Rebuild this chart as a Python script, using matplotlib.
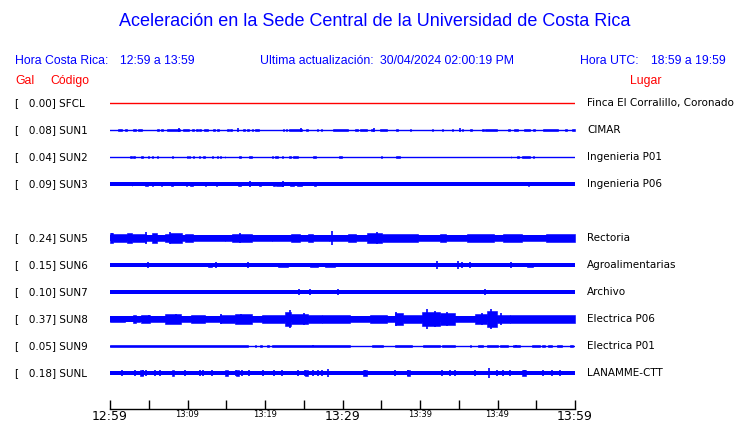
import matplotlib
matplotlib.use("Agg")
import matplotlib.pyplot as plt

# station table
codes = ["SFCL", "SUN1", "SUN2", "SUN3", "SUN5", "SUN6", "SUN7", "SUN8", "SUN9", "SUNL"]
peaks = [0.00, 0.08, 0.04, 0.09, 0.24, 0.15, 0.10, 0.37, 0.05, 0.18]
places = ["Finca El Corralillo, Coronado", "CIMAR", "Ingenieria P01", "Ingenieria P06",
          "Rectoria", "Agroalimentarias", "Archivo", "Electrica P06", "Electrica P01",
          "LANAMME-CTT"]
# steady background half-amplitude of each trace (Gal)
base = [0.0, 0.015, 0.008, 0.06, 0.10, 0.06, 0.06, 0.09, 0.008, 0.075]

# time axis (minutes after 12:59)
t_ticks = list(range(0, 61, 5))
t_labels = ["12:59", "", "13:09", "", "13:19", "", "13:29", "", "13:39", "", "13:49", "", "13:59"]
t_big = ["12:59", "13:29", "13:59"]

# bursts: (start min, end min, half amplitude Gal); spikes: (min, half amplitude Gal)
sun1_bursts = [(1.0, 1.5, .05), (1.9, 2.2, .05), (3.0, 3.4, .05), (3.6, 4.1, .05), (6.1, 6.3, .04),
               (6.6, 6.8, .04), (7.4, 9.0, .05), (9.4, 10.2, .05), (10.6, 10.8, .04), (11.1, 11.3, .04),
               (11.5, 11.7, .04), (12.1, 12.6, .05), (13.3, 13.5, .04), (13.8, 14.0, .04), (15.1, 15.3, .04),
               (15.5, 15.7, .04), (17.2, 17.4, .04), (17.7, 17.9, .04), (18.3, 18.5, .04), (18.7, 19.2, .05),
               (22.3, 22.5, .04), (22.7, 22.9, .04), (23.1, 24.8, .05), (25.3, 25.5, .04), (26.7, 26.9, .04),
               (27.2, 27.4, .04), (28.8, 30.7, .05), (31.6, 32.0, .05), (32.3, 33.2, .05), (33.7, 33.9, .04),
               (34.8, 35.7, .05), (36.9, 37.1, .04), (38.7, 38.9, .04), (41.5, 41.7, .04), (42.8, 43.0, .04),
               (44.1, 44.3, .04), (45.4, 45.6, .05), (46.5, 46.7, .04), (48.0, 48.2, .04), (48.4, 49.9, .05),
               (51.4, 51.6, .04), (52.1, 52.6, .05), (53.4, 54.2, .05), (54.6, 54.8, .04), (55.9, 57.8, .05),
               (58.7, 59.0, .05), (59.6, 60.0, .05)]
sun1_spikes = [(8.9, .08), (16.5, .07), (24.6, .08), (34.1, .07), (45.2, .08)]

sun2_bursts = [(2.6, 2.8, .035), (3.0, 3.2, .035), (4.0, 4.3, .035), (4.9, 5.0, .03), (5.4, 5.5, .03),
               (6.1, 6.2, .03), (8.0, 8.1, .03), (9.9, 10.0, .03), (10.2, 10.3, .03), (10.7, 10.8, .03),
               (11.5, 11.6, .03), (12.0, 12.3, .035), (13.2, 13.3, .03), (13.8, 13.9, .03), (14.2, 14.3, .03),
               (14.8, 14.9, .03), (16.6, 16.9, .035), (17.9, 18.3, .035), (20.9, 21.0, .03), (21.3, 21.7, .035),
               (22.2, 22.3, .03), (23.1, 23.4, .035), (23.6, 24.3, .04), (26.2, 26.6, .035), (29.5, 29.9, .035),
               (35.0, 35.1, .03), (36.9, 37.4, .035), (51.7, 51.8, .03), (52.5, 52.8, .035), (53.2, 54.2, .04),
               (54.6, 54.7, .03)]
sun2_spikes = []

sun3_bursts = [(2.8, 2.9, .07), (4.5, 4.9, .07), (5.4, 5.5, .07), (6.6, 6.7, .07), (7.9, 8.1, .07),
               (9.8, 9.9, .07), (10.3, 10.7, .07), (12.3, 12.4, .07), (13.7, 13.8, .07), (16.5, 16.9, .075),
               (19.2, 19.5, .075), (21.0, 21.3, .075), (21.4, 22.3, .075), (23.2, 23.7, .075), (24.1, 24.8, .075),
               (26.3, 26.6, .075), (53.9, 54.1, .07)]
sun3_spikes = [(18.1, .09), (22.3, .09), (52.6, .08), (54.0, .08), (59.5, .08)]

sun5_bursts = [(0, 0.45, .19), (0.45, 2.15, .13), (2.15, 2.8, .17), (2.8, 4.7, .15), (4.7, 5.4, .11),
               (5.4, 6.0, .16), (6.0, 7.1, .12), (7.1, 7.7, .13), (7.7, 9.3, .16), (9.3, 9.7, .11),
               (9.7, 10.7, .14), (10.7, 14.8, .12), (14.8, 15.7, .10), (15.7, 18.3, .15), (18.3, 20.9, .12),
               (20.9, 23.4, .11), (23.4, 24.5, .14), (24.5, 25.6, .11), (25.6, 26.2, .15), (26.2, 28.2, .11),
               (28.2, 30.7, .12), (30.7, 31.8, .14), (31.8, 33.1, .11), (33.1, 35.1, .16), (35.1, 39.8, .13),
               (39.8, 42.6, .11), (42.6, 43.4, .14), (43.4, 46.0, .12), (46.0, 49.5, .14), (49.5, 50.7, .11),
               (50.7, 53.1, .14), (53.1, 56.3, .12), (56.3, 60.0, .13)]
sun5_spikes = [(0.2, .19), (4.6, .20), (7.8, .21), (16.8, .17), (28.6, .24), (34.5, .20)]

sun6_bursts = [(12.7, 13.1, .075), (21.7, 23.0, .075), (25.8, 26.9, .075), (27.7, 29.0, .075), (53.8, 54.6, .075)]
sun6_spikes = [(4.2, .08), (4.9, .12), (8.4, .08), (11.5, .08), (13.7, .10), (17.8, .10), (20.6, .08),
               (24.9, .08), (42.2, .13), (42.6, .08), (44.9, .15), (45.4, .10), (46.4, .10), (47.5, .08),
               (51.7, .09), (56.3, .08)]

sun7_bursts = []
sun7_spikes = [(0.6, .08), (11.2, .08), (17.8, .08), (20.3, .08), (23.5, .08), (24.4, .09), (25.8, .09),
               (29.4, .10), (31.0, .08), (37.4, .08), (41.0, .08), (48.4, .09), (52.3, .08), (55.2, .08),
               (58.5, .08)]

sun8_bursts = [(0, 1.9, .12), (3.0, 3.4, .14), (3.4, 3.9, .10), (4.0, 5.2, .14), (5.2, 7.1, .11),
               (7.1, 9.2, .16), (9.2, 10.5, .12), (10.5, 12.3, .13), (12.3, 14.2, .10), (14.2, 16.1, .15),
               (16.1, 18.3, .16), (18.3, 19.6, .12), (19.6, 22.6, .15), (22.6, 23.4, .25), (23.4, 25.6, .18),
               (25.6, 27.3, .14), (27.3, 31.0, .13), (31.0, 33.5, .10), (33.5, 35.7, .13), (35.7, 36.8, .12),
               (36.8, 37.8, .22), (37.8, 40.2, .13), (40.2, 42.6, .26), (42.6, 44.5, .20), (44.5, 47.1, .11),
               (47.1, 48.6, .17), (48.6, 49.9, .28), (49.9, 51.6, .15), (51.6, 60.0, .14)]
sun8_spikes = [(5.0, .14), (8.5, .17), (14.3, .16), (16.9, .17), (23.2, .33), (25.0, .20), (36.9, .25),
               (40.9, .37), (41.9, .27), (43.5, .24), (48.0, .20), (49.1, .34), (50.5, .20)]

sun9_bursts = [(0, 17.8, .045), (18.7, 18.9, .045), (19.4, 19.6, .045), (20.3, 20.5, .045), (20.9, 31.0, .045),
               (33.8, 35.2, .045), (36.8, 39.0, .045), (40.4, 42.6, .045), (42.8, 44.5, .045), (46.5, 46.6, .045),
               (47.5, 48.1, .045), (48.6, 50.1, .045), (50.3, 51.4, .045), (52.0, 52.9, .045), (54.5, 55.5, .045),
               (55.7, 56.1, .045), (56.5, 57.0, .045), (57.7, 58.3, .045), (59.4, 59.7, .045)]
sun9_spikes = [(26.2, .05), (52.4, .05)]

sunl_bursts = [(3.9, 4.2, .09), (8.0, 8.2, .09), (14.8, 15.2, .09), (16.3, 16.6, .09), (25.2, 25.5, .10),
               (32.7, 33.1, .09), (38.3, 38.7, .10), (53.1, 53.7, .10)]
sunl_spikes = [(1.6, .09), (3.2, .10), (4.2, .09), (4.7, .09), (5.8, .12), (6.5, .09), (9.7, .09),
               (11.6, .10), (12.0, .09), (13.1, .10), (16.3, .09), (17.0, .10), (17.9, .10), (19.8, .09),
               (21.1, .10), (22.2, .09), (24.3, .09), (25.2, .10), (26.2, .09), (26.9, .09), (27.3, .09),
               (28.1, .15), (32.9, .09), (36.8, .09), (38.5, .10), (42.8, .09), (43.9, .09), (44.5, .09),
               (47.1, .09), (48.9, .18), (49.9, .09), (50.7, .09), (51.6, .10), (53.4, .11), (53.6, .12),
               (55.9, .09), (57.0, .09), (58.1, .09)]

bursts = [[], sun1_bursts, sun2_bursts, sun3_bursts, sun5_bursts, sun6_bursts,
          sun7_bursts, sun8_bursts, sun9_bursts, sunl_bursts]
spikes = [[], sun1_spikes, sun2_spikes, sun3_spikes, sun5_spikes, sun6_spikes,
          sun7_spikes, sun8_spikes, sun9_spikes, sunl_spikes]

BLUE = "#0000ff"
RED = "#ff0000"
W, H = 740, 423
gain = 1.05         # trace spacing units per Gal
rows = [0, 1, 2, 3, 5, 6, 7, 8, 9, 10]   # row 4 is left empty

fig = plt.figure(figsize=(W / 100, H / 100), dpi=100)
ax = fig.add_axes([110 / W, (H - 409) / H, 465 / W, (409 - 88) / H])
ax.set_xlim(t_ticks[0], t_ticks[-1])
ax.set_ylim(-(409 - 103) / 27, (103 - 88) / 27)

t0, t1 = t_ticks[0], t_ticks[-1]
lab_font = dict(fontsize=7.5, va="center", ha="left", family="DejaVu Sans")
for i, code in enumerate(codes):
    y = -rows[i]
    ypix = 103 + 27 * rows[i]
    fig.text(15 / W, 1 - ypix / H, f"[ {peaks[i]:6.2f}] {code}", **lab_font)
    fig.text(587 / W, 1 - ypix / H, places[i], **lab_font)
    if code == "SFCL":
        ax.plot([t0, t1], [y, y], color=RED, lw=1)
        continue
    b = base[i] * gain
    ax.plot([t0, t1], [y, y], color=BLUE, lw=1.0)
    if b > 0.02:
        ax.fill_between([t0, t1], y - b, y + b, color=BLUE, lw=0)
    for s, e, a in bursts[i]:
        ax.fill_between([s, e], y - a * gain, y + a * gain, facecolor=BLUE, edgecolor=BLUE, lw=0.4)
    if spikes[i]:
        ts = [p[0] for p in spikes[i]]
        amp = [p[1] * gain for p in spikes[i]]
        ax.vlines(ts, [y - a for a in amp], [y + a for a in amp], color=BLUE, lw=1.2)

for side in ["top", "left", "right"]:
    ax.spines[side].set_visible(False)
ax.spines["bottom"].set_linewidth(1)
ax.set_yticks([])
ax.set_xticks(t_ticks)
ax.set_xticklabels(t_labels)
ax.tick_params(axis="x", direction="in", length=6.5, width=1, pad=0.5)
for lab in ax.get_xticklabels():
    lab.set_fontsize(9 if lab.get_text() in t_big else 6)
    lab.set_family("DejaVu Sans")

# headings
hdr = dict(family="Liberation Sans", va="center", ha="left", fontsize=8.8)
fig.text(375 / W, 1 - 22 / H, "Aceleración en la Sede Central de la Universidad de Costa Rica",
         fontsize=13, color=BLUE, ha="center", va="center", family="Liberation Sans")
fig.text(15 / W, 1 - 61 / H, "Hora Costa Rica:", color=BLUE, **hdr)
fig.text(120 / W, 1 - 61 / H, "12:59 a 13:59", color=BLUE, **hdr)
fig.text(260 / W, 1 - 61 / H, "Ultima actualización:", color=BLUE, **hdr)
fig.text(380 / W, 1 - 61 / H, "30/04/2024 02:00:19 PM", color=BLUE, **hdr)
fig.text(580 / W, 1 - 61 / H, "Hora UTC:", color=BLUE, **hdr)
fig.text(651 / W, 1 - 61 / H, "18:59 a 19:59", color=BLUE, **hdr)
fig.text(15 / W, 1 - 81 / H, "Gal", color=RED, **hdr)
fig.text(50 / W, 1 - 81 / H, "Código", color=RED, **hdr)
fig.text(630 / W, 1 - 81 / H, "Lugar", color=RED, **hdr)

fig.savefig("out.png", dpi=100, facecolor="white")
